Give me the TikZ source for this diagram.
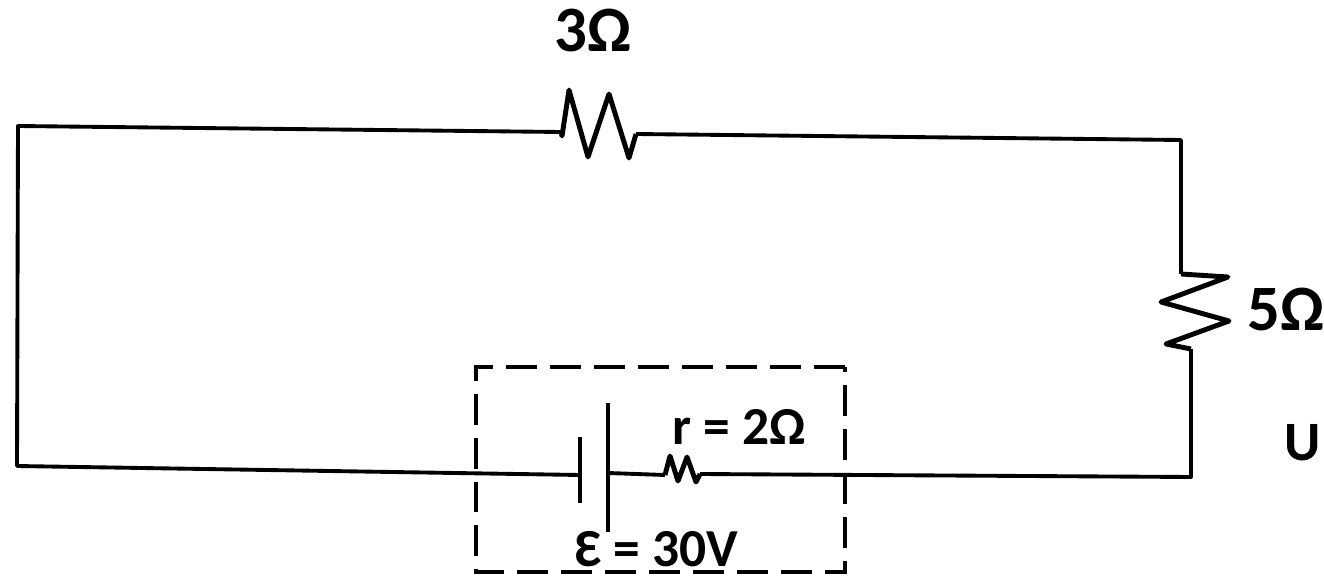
\documentclass[tikz,border=0pt]{standalone}
\usepackage{fontspec}
\setmainfont{Carlito}
\usepackage{xcolor}
\usetikzlibrary{calc}
\usetikzlibrary{positioning}

\begin{document}
\begin{tikzpicture}[-,auto,x=0.01cm,y=-0.01cm,
                    wire/.style={line width=1.1pt,line join=round},
                    zigzag/.style={line width=1.4pt,line join=round},
                    inner box/.style={line width=1.2pt,dash pattern=on 8.8pt off 3.7pt},
                    big label/.style={font=\bfseries\fontsize{18.4}{22}\selectfont,inner sep=0pt},
                    small label/.style={font=\bfseries\fontsize{15.2}{18}\selectfont,inner sep=0pt}]
\useasboundingbox (0,0) rectangle (1324,576);

\coordinate (TopLeft) at (18,126);
\coordinate (TopRight) at (1181,140);
\coordinate (BottomLeft) at (17,466);
\coordinate (BottomRight) at (1191,477);

\coordinate (TopResIn) at (561,132);
\coordinate (TopResOut) at (636,134);
\coordinate (SideResIn) at (1181,274);
\coordinate (SideResOut) at (1191,349);
\coordinate (InnerResIn) at (665,475);
\coordinate (InnerResOut) at (700,474);

\coordinate (ShortTop) at (580,437);
\coordinate (ShortBottom) at (580,503);
\coordinate (ShortMid) at (580,475);
\coordinate (LongTop) at (608,403);
\coordinate (LongBottom) at (608,532);
\coordinate (LongMid) at (608,473);

% circuit wires
\draw[wire] (TopResIn)--(TopLeft)--(BottomLeft)--(ShortMid);
\draw[wire] (TopResOut)--(TopRight)--(SideResIn);
\draw[wire] (SideResOut)--(BottomRight)--(InnerResOut);
\draw[wire] (LongMid)--(InnerResIn);

% battery
\draw[wire] (ShortTop)--(ShortBottom);
\draw[wire] (LongTop)--(LongBottom);

% resistors
\draw[zigzag] (TopResIn)--(562,136)--(569,90)--(588,157)--(609,94)--(629,158)--(TopResOut);
\draw[zigzag] (SideResIn)--(1228,277)--(1161,302)--(1229,321)--(1166,344)--(SideResOut);
\draw[zigzag] (InnerResIn)--(670,456)--(678,481)--(687,457)--(696,482)--(InnerResOut);

\draw[inner box] (845,367)--(476,367)--(476,572)--(845,572)--cycle;

\node[big label] (TopLabel) at (593,31) {3Ω};
\node[big label] (SideLabel) at (1286,310) {5Ω};
\node[small label] (InnerLabel) at (739,427) {r = 2Ω};
\node[small label] (BatteryLabel) at (657,549) {Ɛ = 30V};
\node[small label,anchor=west,font=\bfseries\fontsize{15.8}{18}\selectfont] (CutLabel) at (1284,443) {U};

\end{tikzpicture}
\end{document}
